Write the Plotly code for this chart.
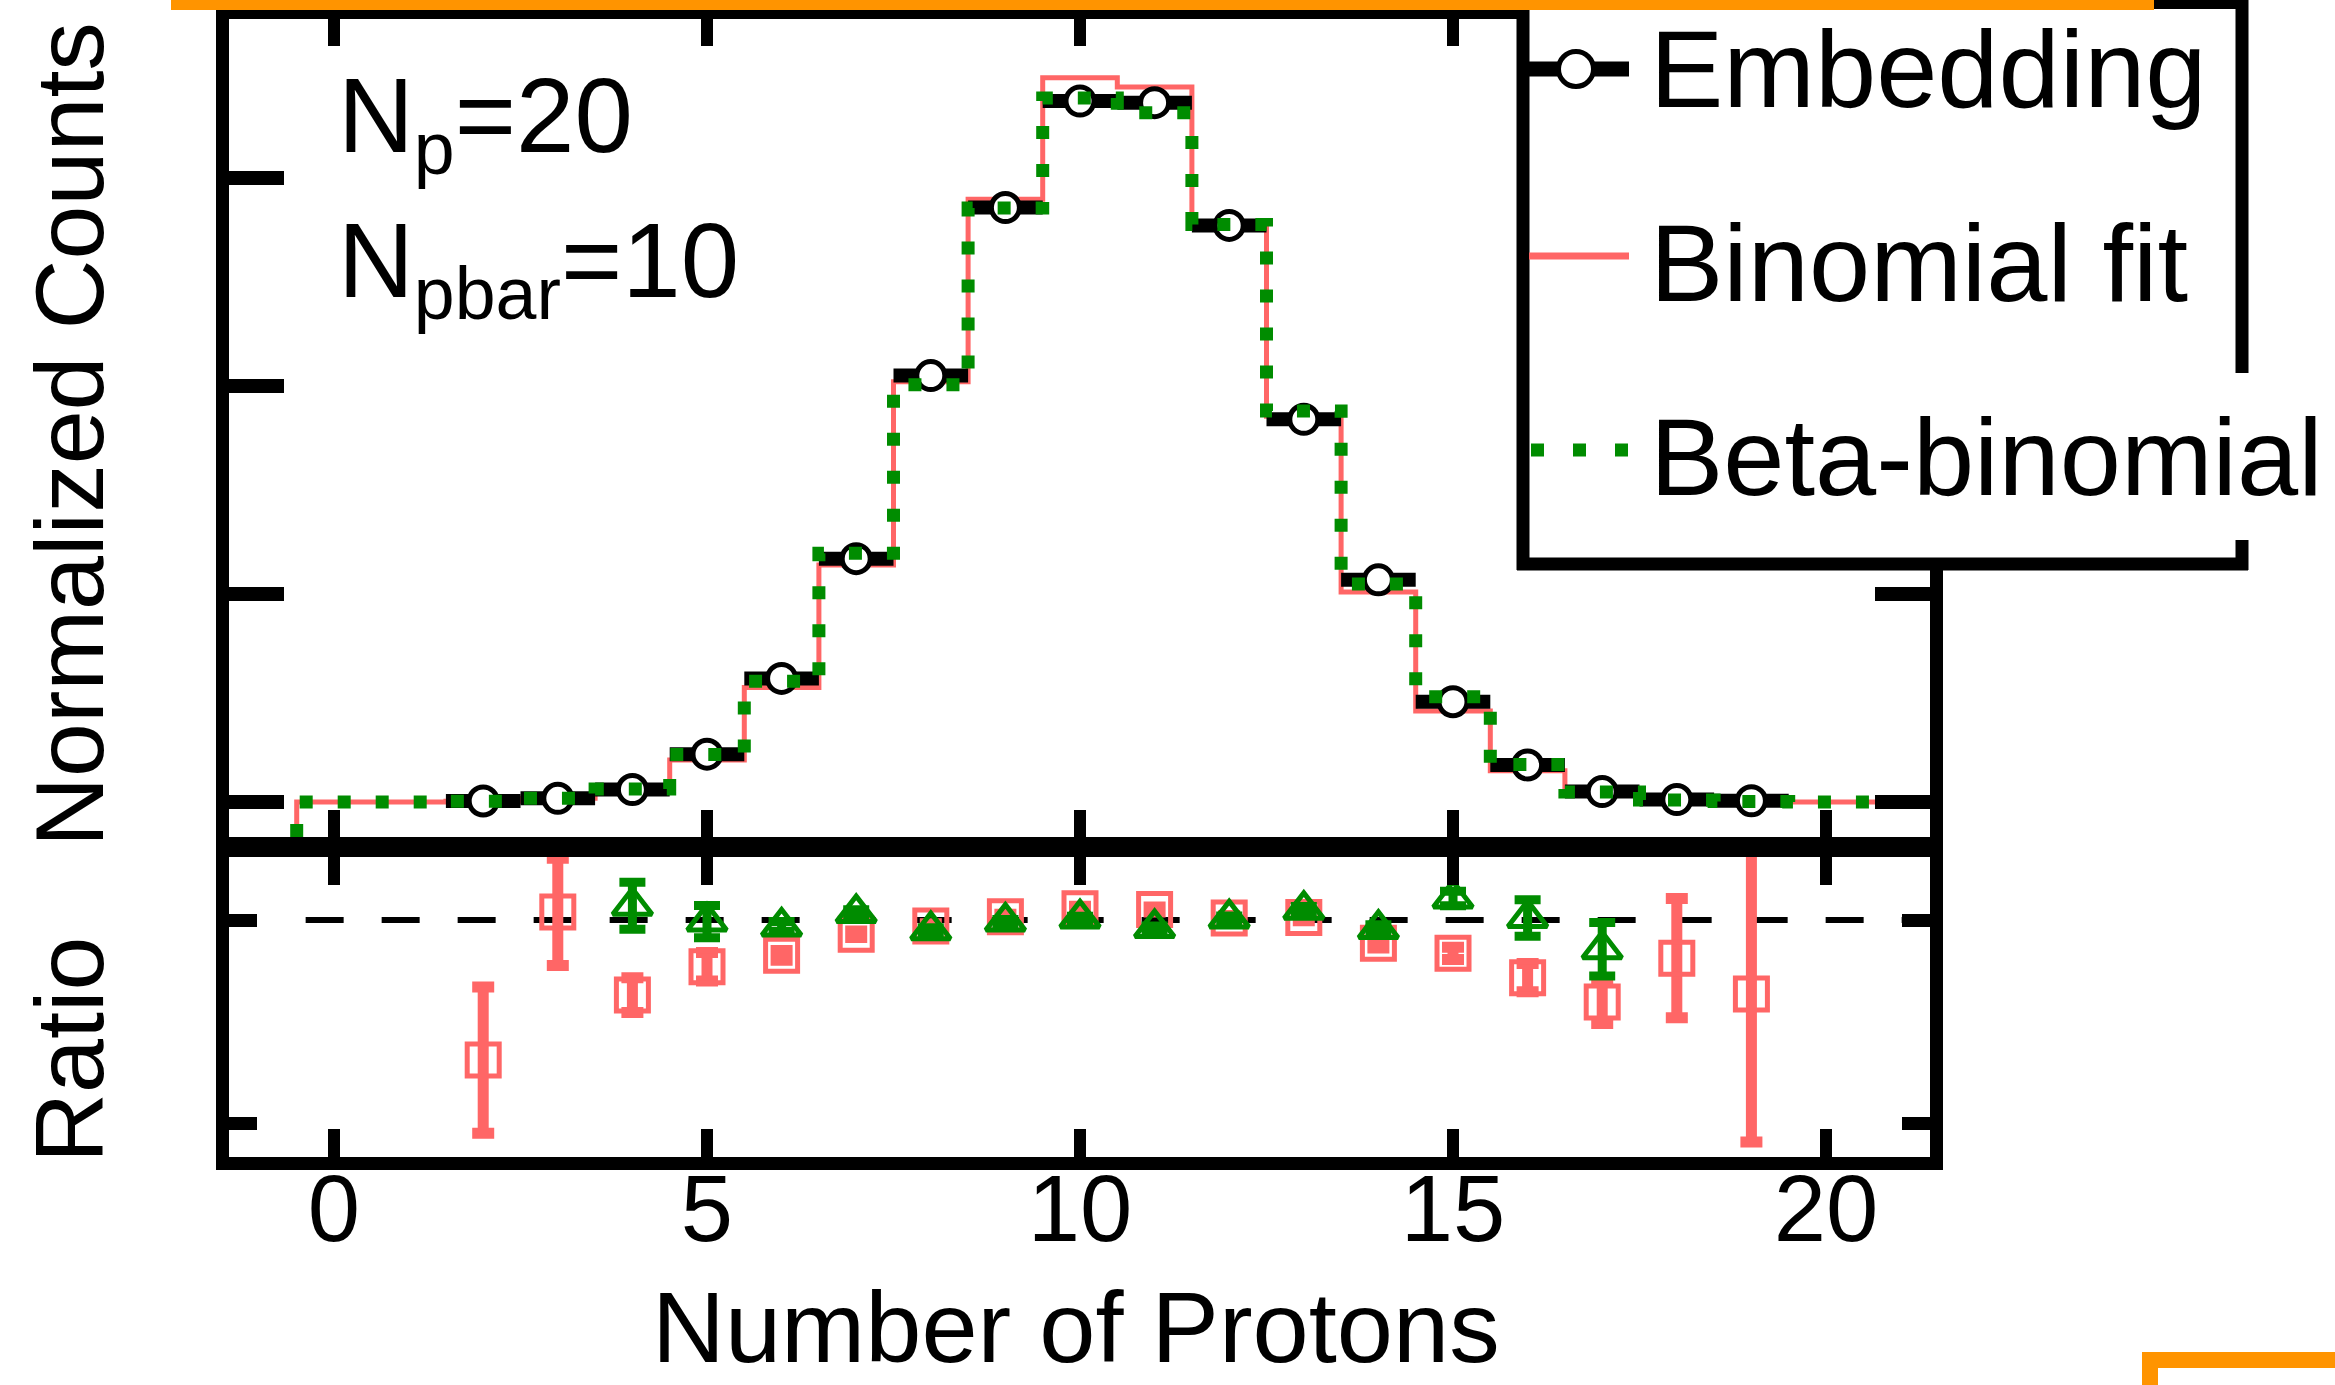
import plotly.graph_objects as go

W, H = 2335, 1385

# ---------------- data ----------------
bins = list(range(0, 22))                       # proton-number bins of the model curves
emb_bins = list(range(2, 20))                   # bins with embedding points
embedding = [0.00025, 0.0009, 0.0030, 0.0115, 0.0297, 0.0585, 0.1025, 0.1429, 0.1685,
             0.1681, 0.1386, 0.0920, 0.0534, 0.0241, 0.0089, 0.0025, 0.0006, 0.0003]
binomial = [0.0, 0.00001, 0.00017, 0.0009, 0.0025, 0.0101, 0.0275, 0.0570, 0.1010, 0.1449,
            0.1741, 0.1719, 0.1393, 0.0927, 0.0505, 0.0219, 0.0075, 0.0019, 0.0004, 0.0001,
            0.0, 0.0]
beta_binomial = [0.0, 0.0, 0.0002, 0.0009, 0.0031, 0.0114, 0.0290, 0.0598, 0.1003, 0.1428,
                 0.1692, 0.1657, 0.1388, 0.0940, 0.0524, 0.0253, 0.0090, 0.0024, 0.0005, 0.0001,
                 0.0, 0.0]

ratio_bino_bins = list(range(2, 20))
ratio_bino = [0.655, 1.020, 0.815, 0.885, 0.913, 0.965, 0.985, 1.008, 1.028,
              1.026, 1.005, 1.006, 0.943, 0.918, 0.858, 0.798, 0.906, 0.818]
ratio_bino_err = [0.180, 0.132, 0.043, 0.035, 0.012, 0.008, 0.006, 0.006, 0.006,
                  0.006, 0.006, 0.008, 0.012, 0.015, 0.035, 0.053, 0.147, 0.365]

ratio_beta_bins = list(range(4, 18))
ratio_beta = [1.035, 0.996, 0.984, 1.017, 0.975, 0.996, 1.004, 0.980, 1.004, 1.025,
              0.978, 1.053, 1.005, 0.928]
ratio_beta_err = [0.058, 0.040, 0.012, 0.008, 0.006, 0.005, 0.005, 0.005, 0.006, 0.008,
                  0.010, 0.018, 0.045, 0.066]

x_ticks = [0, 5, 10, 15, 20]
x_tick_labels = ["0", "5", "10", "15", "20"]
counts_ticks = [0.0, 0.05, 0.10, 0.15]
ratio_ticks = [0.5, 1.0]
ratio_ref = 1.0

labels = ["Embedding", "Binomial fit", "Beta-binomial"]

# ---------------- style ----------------
BLACK = "black"
PINK = "#ff6666"
GREEN = "#008c00"
ORANGE = "#ff9400"
FONT = "Liberation Sans, Arial, Helvetica, sans-serif"

X_RANGE = [-1.4075, 21.394]
Y1_RANGE = [-0.008413, 0.18822]
Y2_RANGE = [0.41626, 1.15517]


def PX(px):
    return px / W


def PY(py):
    return 1 - py / H


def step_xy(centers, vals, floor):
    edges = [c - 0.5 for c in centers] + [centers[-1] + 0.5]
    xs = [edges[0]] + edges
    ys = [floor] + list(vals) + [vals[-1]]
    return xs, ys


fig = go.Figure()

# --- top panel ---
bx, by = step_xy(bins, binomial, Y1_RANGE[0])
fig.add_trace(go.Scatter(x=bx, y=by, mode="lines", line=dict(color=PINK, width=5, shape="hv"),
                         name=labels[1], xaxis="x", yaxis="y"))

fig.add_trace(go.Scatter(x=emb_bins, y=embedding, mode="markers",
                         marker=dict(symbol="circle", size=28, color="white",
                                     line=dict(color=BLACK, width=5)),
                         error_x=dict(type="constant", value=0.5, thickness=14, width=0, color=BLACK),
                         name=labels[0], xaxis="x", yaxis="y"))

gx, gy = step_xy(bins, beta_binomial, Y1_RANGE[0])
fig.add_trace(go.Scatter(x=gx, y=gy, mode="lines",
                         line=dict(color=GREEN, width=13, shape="hv", dash="13px,25px"),
                         name=labels[2], xaxis="x", yaxis="y"))

# --- ratio panel ---
fig.add_trace(go.Scatter(x=[-0.38, X_RANGE[1]], y=[ratio_ref, ratio_ref], mode="lines",
                         line=dict(color=BLACK, width=6, dash="38px,38px"),
                         xaxis="x2", yaxis="y2", hoverinfo="skip"))

fig.add_trace(go.Scatter(x=ratio_bino_bins, y=ratio_bino, mode="markers",
                         marker=dict(symbol="square-open", size=32, color=PINK,
                                     line=dict(color=PINK, width=5)),
                         error_y=dict(type="data", array=ratio_bino_err, thickness=11, width=11,
                                      color=PINK),
                         name="Binomial / Embedding", xaxis="x2", yaxis="y2"))

fig.add_trace(go.Scatter(x=ratio_beta_bins, y=ratio_beta, mode="markers",
                         marker=dict(symbol="triangle-up-open", size=34, color=GREEN,
                                     line=dict(color=GREEN, width=5)),
                         error_y=dict(type="data", array=ratio_beta_err, thickness=9, width=13,
                                      color=GREEN),
                         name="Beta-binomial / Embedding", xaxis="x2", yaxis="y2"))

axis_common = dict(showgrid=False, zeroline=False, showline=True, linecolor=BLACK,
                   linewidth=13, mirror="ticks", ticks="inside", tickcolor=BLACK,
                   fixedrange=True)

fig.update_layout(
    width=W, height=H, autosize=False,
    margin=dict(l=0, r=0, t=0, b=0),
    paper_bgcolor="white", plot_bgcolor="white",
    showlegend=False,
    font=dict(family=FONT, color=BLACK),
    xaxis=dict(domain=[PX(229), PX(1930)], range=X_RANGE, anchor="y",
               tickvals=x_ticks, ticklen=27, tickwidth=12, showticklabels=False,
               **axis_common),
    yaxis=dict(domain=[PY(837), PY(19)], range=Y1_RANGE, anchor="x",
               tickvals=counts_ticks, ticklen=55, tickwidth=14, showticklabels=False,
               **axis_common),
    xaxis2=dict(domain=[PX(229), PX(1930)], range=X_RANGE, anchor="y2",
                tickvals=x_ticks, ticktext=x_tick_labels, ticklen=28, tickwidth=12,
                tickfont=dict(size=94, family=FONT, color=BLACK),
                ticklabelstandoff=-42,
                **axis_common),
    yaxis2=dict(domain=[PY(1157), PY(857)], range=Y2_RANGE, anchor="x2",
                tickvals=ratio_ticks, ticklen=28, tickwidth=13, showticklabels=False,
                **axis_common),
)

# ---------------- legend (drawn box) + decorations ----------------
shapes = []


def rect(x0, y0, x1, y1, fill, layer="above"):
    shapes.append(dict(type="rect", xref="paper", yref="paper",
                       x0=PX(x0), x1=PX(x1), y0=PY(y1), y1=PY(y0),
                       fillcolor=fill, line=dict(width=0), layer=layer))


def seg(x0, y0, x1, y1, color, width, dash="solid"):
    shapes.append(dict(type="line", xref="paper", yref="paper",
                       x0=PX(x0), x1=PX(x1), y0=PY(y0), y1=PY(y1),
                       line=dict(color=color, width=width, dash=dash), layer="above"))


rect(1523, 0, 2242, 564, "white")
seg(1523, -6, 1523, 570, BLACK, 13)
seg(1517, 564, 2248, 564, BLACK, 13)
seg(2242, -6, 2242, 373, BLACK, 13)
seg(2242, 540, 2242, 570, BLACK, 13)
seg(1517, 3, 2248, 3, BLACK, 12)
# legend samples
seg(1529, 69, 1629, 69, BLACK, 15)
shapes.append(dict(type="circle", xref="paper", yref="paper",
                   x0=PX(1576 - 17.5), x1=PX(1576 + 17.5), y0=PY(69 + 17.5), y1=PY(69 - 17.5),
                   fillcolor="white", line=dict(color=BLACK, width=5), layer="above"))
seg(1529, 256, 1629, 256, PINK, 7)
seg(1531, 450, 1629, 450, GREEN, 13, dash="13px,29px")
# orange frame fragments
rect(171, 0, 2154, 10, ORANGE)
rect(2142, 1352, 2335, 1368, ORANGE)
rect(2142, 1352, 2158, 1385, ORANGE)

fig.update_layout(shapes=shapes)

ann = []


def text(t, x, y, size, xanchor="left", yanchor="middle", angle=0):
    ann.append(dict(text=t, x=PX(x), y=PY(y), xref="paper", yref="paper",
                    xanchor=xanchor, yanchor=yanchor, showarrow=False, textangle=angle,
                    font=dict(size=size, family=FONT, color=BLACK)))


text(labels[0], 1648, 68, 110)
text(labels[1], 1648, 262, 110)
text(labels[2], 1648, 456, 110)
text("N<sub>p</sub>=20", 336, 55, 105, yanchor="top")
text("N<sub>pbar</sub>=10", 336, 200, 105, yanchor="top")
text("Normalized Counts", 69, 435, 97, xanchor="center", angle=-90)
text("Ratio", 69, 1050, 97, xanchor="center", angle=-90)
text("Number of Protons", 1076, 1327, 101, xanchor="center")

fig.update_layout(annotations=ann)

fig.write_html("out.html")
